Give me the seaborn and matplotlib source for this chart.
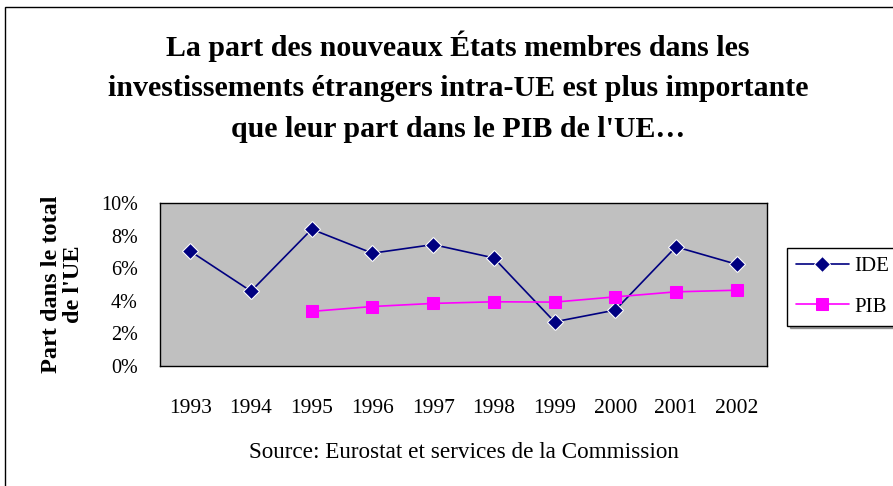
import numpy as np
import pandas as pd
import matplotlib.pyplot as plt
import seaborn as sns
from matplotlib.ticker import FixedLocator, PercentFormatter

years = ["1993", "1994", "1995", "1996", "1997", "1998", "1999", "2000", "2001", "2002"]
ide = [7.04, 4.59, 8.39, 6.92, 7.45, 6.63, 2.71, 3.43, 7.31, 6.24]
pib = [np.nan, np.nan, 3.35, 3.65, 3.84, 3.94, 3.92, 4.24, 4.55, 4.65]

sns.set_style("white")
plt.rcParams["font.family"] = ["Liberation Serif", "DejaVu Serif"]
for k in ["text.color", "axes.labelcolor", "xtick.color", "ytick.color"]:
    plt.rcParams[k] = "black"

df = pd.DataFrame({"pos": range(len(years)), "IDE": ide, "PIB": pib})

fig = plt.figure(figsize=(8.93, 4.86), dpi=100)
ax = fig.add_axes([160 / 893, 1 - 366 / 486, (767 - 160) / 893, (366 - 203) / 486])
ax.set_facecolor("#C0C0C0")

sns.lineplot(data=df, x="pos", y="IDE", ax=ax, color="#000080", marker="D",
             markersize=8, linewidth=1.2, label="IDE")
sns.lineplot(data=df.dropna(), x="pos", y="PIB", ax=ax, color="#FF00FF", marker="s",
             markersize=9, linewidth=1.2, label="PIB", markeredgecolor="#FF00FF")

ax.set_xlim(-0.5, len(years) - 0.5)
ax.set_ylim(0, 10)
ax.set_xticks(range(len(years)))
ax.set_xticklabels(years, fontsize=15.5)
ax.xaxis.set_minor_locator(FixedLocator(np.arange(-0.5, len(years), 1)))
ax.tick_params(axis="x", which="major", length=0, pad=24)
ax.tick_params(axis="x", which="minor", length=6, width=1, color="black", direction="out")
ax.set_yticks(range(0, 11, 2))
ax.yaxis.set_major_formatter(PercentFormatter(decimals=0))
ax.tick_params(axis="y", length=6, width=1, color="black", direction="out",
               labelsize=14.5, pad=10)
for s in ax.spines.values():
    s.set_color("black")
    s.set_linewidth(1)

ax.set_xlabel("Source: Eurostat et services de la Commission", fontsize=16.7, labelpad=17)
ax.set_ylabel("Part dans le total\nde l'UE", fontsize=17.5, fontweight="bold", labelpad=12,
              linespacing=1.05)

fig.text(458 / 893, 1 - 30 / 486,
         "La part des nouveaux États membres dans les\n"
         "investissements étrangers intra-UE est plus importante\n"
         "que leur part dans le PIB de l'UE…",
         ha="center", va="top", fontsize=21.5, fontweight="bold", linespacing=1.66)

ax.get_legend().remove()
leg = fig.legend(loc="upper left", bbox_to_anchor=(787 / 893, 1 - 248 / 486), fontsize=15,
                 frameon=True, fancybox=False, shadow=True, edgecolor="black",
                 borderpad=0.42, handlelength=2.55, handletextpad=0.25,
                 labelspacing=1.0, borderaxespad=0)
leg.get_frame().set_linewidth(1)

fig.patches.append(plt.Rectangle((5 / 893, -0.1), 1.2, 1.1 - 7 / 486,
                                 transform=fig.transFigure, fill=False,
                                 edgecolor="black", linewidth=1))

fig.savefig("out.png", dpi=100)
